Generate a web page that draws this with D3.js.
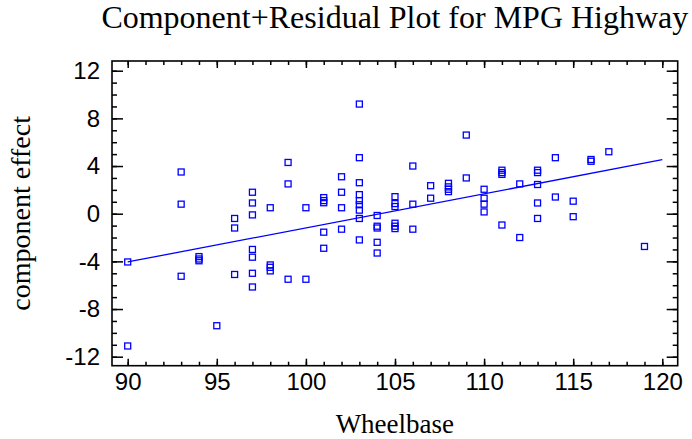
<!DOCTYPE html>
<html>
<head>
<meta charset="utf-8">
<script src="https://cdn.jsdelivr.net/npm/d3@7"></script>
<style>
  body { margin: 0; background: #fff; }
  svg { display: block; }
  .tick text { font-family: "Liberation Sans", Arial, sans-serif; font-size: 24px; fill: #000; }
  .tick line { stroke: #000; stroke-width: 1.5px; }
  .domain { display: none; }
</style>
</head>
<body>
<svg id="chart" width="692" height="439"></svg>
<script>
// points: wheelbase vs component effect
const wheelbase = [
  90, 90,
  93, 93, 93,
  94, 94, 94,
  95,
  96, 96, 96,
  97, 97, 97, 97, 97, 97, 97,
  98, 98, 98, 98,
  99, 99, 99,
  100, 100,
  101, 101, 101, 101, 101,
  102, 102, 102, 102,
  103, 103, 103, 103, 103, 103, 103, 103, 103,
  104, 104, 104, 104, 104,
  105, 105, 105, 105, 105, 105,
  106, 106, 106,
  107, 107,
  108, 108, 108, 108,
  109, 109,
  110, 110, 110, 110,
  111, 111, 111, 111,
  112, 112,
  113, 113, 113, 113, 113,
  114, 114,
  115, 115,
  116, 116,
  117,
  119
]
const effect = [
  -4.05, -11.1,
  3.5, 0.8, -5.25,
  -3.6, -3.8, -3.95,
  -9.4,
  -0.4, -1.2, -5.1,
  1.8, 0.9, -0.1, -3.0, -3.65, -5.0, -6.15,
  0.5, -4.3, -4.5, -4.8,
  4.3, 2.5, -5.5,
  0.5, -5.5,
  1.35, 1.1, 0.92, -1.55, -2.9,
  3.1, 1.8, 0.5, -1.3,
  9.2, 4.7, 2.6, 1.6, 1.1, 0.75, 0.3, -0.4, -2.2,
  -0.15, -1.05, -1.2, -2.4, -3.3,
  1.43, 0.85, 0.6, -0.8, -1.05, -1.25,
  4.0, 0.8, -1.3,
  2.35, 1.3,
  2.55, 2.25, 2.05, 1.85,
  6.6, 3.0,
  2.05, 1.3, 0.8, 0.15,
  3.65, 3.45, 3.3, -0.95,
  2.5, -2.0,
  3.65, 3.45, 2.45, 0.9, -0.4,
  4.7, 1.4,
  1.05, -0.25,
  4.55, 4.4,
  5.2,
  -2.75
]

// fitted line endpoints
const fitX = [90, 120]
const fitY = [-4.05, 4.53]

const xMajor = [90, 95, 100, 105, 110, 115, 120]
const xMinor = d3.range(90, 121, 1)
const yMajor = [-12, -8, -4, 0, 4, 8, 12]
const yMinor = d3.range(-12, 13, 1)

const svg = d3.select('#chart')

// plot frame
const frameL = 112, frameR = 677.7, frameT = 61, frameB = 365.7

const x = d3.scaleLinear().domain([90, 120]).range([127.7, 662.3])
const y = d3.scaleLinear().domain([-12, 12]).range([356.7, 70.7])

// plain hyphen for negatives, like the reference
const fmt = d => String(d)

// minor ticks first, then major ones
svg.append('g')
  .attr('transform', 'translate(0,' + frameB + ')')
  .call(d3.axisBottom(x).tickValues(xMinor).tickSizeInner(-4).tickSizeOuter(0).tickFormat(''))
svg.append('g')
  .attr('transform', 'translate(0,' + frameT + ')')
  .call(d3.axisTop(x).tickValues(xMinor).tickSizeInner(-4).tickSizeOuter(0).tickFormat(''))
svg.append('g')
  .attr('transform', 'translate(' + frameL + ',0)')
  .call(d3.axisLeft(y).tickValues(yMinor).tickSizeInner(-5).tickSizeOuter(0).tickFormat(''))
svg.append('g')
  .attr('transform', 'translate(' + frameR + ',0)')
  .call(d3.axisRight(y).tickValues(yMinor).tickSizeInner(-5).tickSizeOuter(0).tickFormat(''))

svg.append('g')
  .attr('transform', 'translate(0,' + frameB + ')')
  .call(d3.axisBottom(x).tickValues(xMajor).tickSizeInner(-7).tickSizeOuter(0).tickPadding(7).tickFormat(fmt))
svg.append('g')
  .attr('transform', 'translate(0,' + frameT + ')')
  .call(d3.axisTop(x).tickValues(xMajor).tickSizeInner(-7).tickSizeOuter(0).tickFormat(''))
svg.append('g')
  .attr('transform', 'translate(' + frameL + ',0)')
  .call(d3.axisLeft(y).tickValues(yMajor).tickSizeInner(-11).tickSizeOuter(0).tickPadding(12).tickFormat(fmt))
svg.append('g')
  .attr('transform', 'translate(' + frameR + ',0)')
  .call(d3.axisRight(y).tickValues(yMajor).tickSizeInner(-11).tickSizeOuter(0).tickFormat(''))

svg.append('rect')
  .attr('x', frameL)
  .attr('y', frameT)
  .attr('width', frameR - frameL)
  .attr('height', frameB - frameT)
  .style('fill', 'none')
  .style('stroke', '#000')
  .style('stroke-width', 1.6)

// fitted line
svg.append('line')
  .attr('x1', x(fitX[0]))
  .attr('y1', y(fitY[0]))
  .attr('x2', x(fitX[1]))
  .attr('y2', y(fitY[1]))
  .style('stroke', '#0000ff')
  .style('stroke-width', 1.3)

// points
const sz = 6
svg.append('g')
  .selectAll('rect')
  .data(wheelbase)
  .join('rect')
  .attr('x', (d, i) => x(d) - sz / 2)
  .attr('y', (d, i) => y(effect[i]) - sz / 2)
  .attr('width', sz)
  .attr('height', sz)
  .style('fill', 'none')
  .style('stroke', '#0000ff')
  .style('stroke-width', 1.3)

// titles
svg.append('text')
  .attr('x', (frameL + frameR) / 2)
  .attr('y', 28)
  .attr('text-anchor', 'middle')
  .style('font-family', '"Liberation Serif", "Times New Roman", serif')
  .style('font-size', '32px')
  .text('Component+Residual Plot for MPG Highway')

svg.append('text')
  .attr('x', (frameL + frameR) / 2)
  .attr('y', 433)
  .attr('text-anchor', 'middle')
  .style('font-family', '"Liberation Serif", "Times New Roman", serif')
  .style('font-size', '27px')
  .text('Wheelbase')

svg.append('text')
  .attr('transform', 'translate(30,' + ((frameT + frameB) / 2) + ') rotate(-90)')
  .attr('text-anchor', 'middle')
  .style('font-family', '"Liberation Serif", "Times New Roman", serif')
  .style('font-size', '28px')
  .text('component effect')
</script>
</body>
</html>
